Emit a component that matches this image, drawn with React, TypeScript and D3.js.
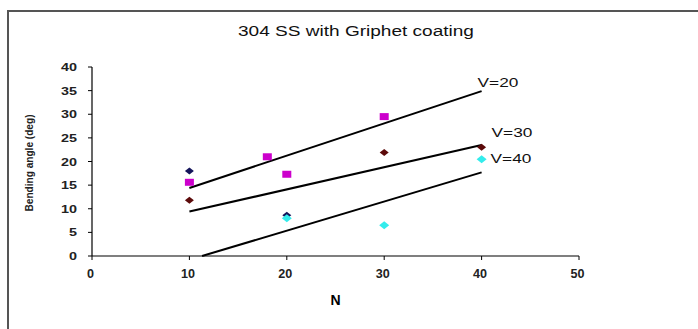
import React from 'react';
import * as d3 from 'd3';

// series
const navyN = [10, 20];
const navyVal = [18.0, 8.6];
const magentaN = [10, 18, 20, 30];
const magentaVal = [15.6, 21.0, 17.3, 29.5];
const brownN = [10, 30, 40];
const brownVal = [11.8, 21.9, 23.0];
const cyanN = [20, 30, 40];
const cyanVal = [8.0, 6.5, 20.5];

// fitted lines: [start N, start value, end N, end value]
const fitLabels = ['V=20', 'V=30', 'V=40'];
const fitLines = [
  [10, 14.4, 40, 34.9],
  [10, 9.4, 40, 23.5],
  [11.3, 0, 40, 17.7],
];
const labelOffsets = [[-4, -4], [10, -8], [9, -9]];

const xTicks = [0, 10, 20, 30, 40, 50];
const yTicks = [0, 5, 10, 15, 20, 25, 30, 35, 40];

const W = 698;
const H = 329;
const font = '"Liberation Sans", Arial, sans-serif';

// text that is stretched sideways like in the source image
const Wide = ({ x, y, sx, anchor = 'start', children, ...rest }: any) => (
  <text
    transform={`translate(${x},${y}) scale(${sx},1)`}
    textAnchor={anchor}
    fontFamily={font}
    {...rest}
  >
    {children}
  </text>
);

export default function App() {
  const x = d3.scaleLinear().domain([0, 50]).range([92, 579]);
  const y = d3.scaleLinear().domain([0, 40]).range([256, 67]);
  const line = d3.line<number[]>().x(d => x(d[0])).y(d => y(d[1]));

  const diamond = (cx: number, cy: number, w: number, h: number) =>
    `M${cx},${cy - h / 2}L${cx + w / 2},${cy}L${cx},${cy + h / 2}L${cx - w / 2},${cy}Z`;

  return (
    <svg width={W} height={H} style={{ position: 'absolute', left: 0, top: 0, background: '#fff' }}>
      <rect x={8} y={11} width={720} height={360} fill="#fff" stroke="#555" strokeWidth={2} />
      <Wide x={356} y={36} sx={1.36} anchor="middle" fontSize={14} fill="#111">
        304 SS  with Griphet coating
      </Wide>

      {/* y axis */}
      <line x1={x(0)} x2={x(0)} y1={y(0)} y2={y(40)} stroke="#000" strokeWidth={1.2} />
      {yTicks.map(t => (
        <g key={'y' + t}>
          <line x1={x(0) - 4} x2={x(0)} y1={y(t)} y2={y(t)} stroke="#000" />
          <Wide x={x(0) - 15} y={y(t) + 4} sx={1.25} anchor="end" fontSize={11.5} fontWeight="bold" fill="#222">
            {t}
          </Wide>
        </g>
      ))}
      {/* x axis */}
      <line x1={x(0)} x2={x(50)} y1={y(0)} y2={y(0)} stroke="#000" strokeWidth={1.2} />
      {xTicks.map(t => (
        <g key={'x' + t}>
          <line x1={x(t)} x2={x(t)} y1={y(0)} y2={y(0) + 4} stroke="#000" />
          <Wide x={x(t) - 1.5} y={y(0) + 22} sx={1.05} anchor="middle" fontSize={12} fontWeight="bold" fill="#222">
            {t}
          </Wide>
        </g>
      ))}
      <text x={335.5} y={305} textAnchor="middle" fontFamily={font} fontSize={14} fontWeight="bold">N</text>
      <text
        transform={`translate(33,163) rotate(-90)`}
        textAnchor="middle"
        fontFamily={font}
        fontSize={11}
        fontWeight="bold"
        fill="#222"
        textLength={97}
        lengthAdjust="spacingAndGlyphs"
      >
        Bending angle (deg)
      </text>

      {/* fitted lines */}
      {fitLines.map((l, i) => (
        <g key={'f' + i}>
          <path d={line([[l[0], l[1]], [l[2], l[3]]]) || ''} stroke="#000" strokeWidth={2} fill="none" />
          <Wide
            x={x(l[2]) + labelOffsets[i][0]}
            y={y(l[3]) + labelOffsets[i][1]}
            sx={1.38}
            fontSize={12.5}
            fill="#111"
          >
            {fitLabels[i]}
          </Wide>
        </g>
      ))}

      {/* points */}
      {navyN.map((n, i) => (
        <path key={'n' + i} d={diamond(x(n), y(navyVal[i]), 9, 7)} fill="#14145a" />
      ))}
      {brownN.map((n, i) => (
        <path key={'b' + i} d={diamond(x(n), y(brownVal[i]), 9, 7)} fill="#5c0a0a" />
      ))}
      {cyanN.map((n, i) => (
        <path key={'c' + i} d={diamond(x(n), y(cyanVal[i]), 10, 8)} fill="#33ecec" />
      ))}
      {magentaN.map((n, i) => (
        <rect key={'m' + i} x={x(n) - 4.5} y={y(magentaVal[i]) - 3.5} width={9} height={7} fill="#cc00cc" />
      ))}
    </svg>
  );
}
